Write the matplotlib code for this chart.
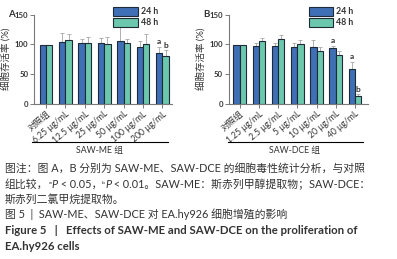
import matplotlib
matplotlib.use("Agg")
import matplotlib.pyplot as plt
import numpy as np

plt.rcParams['font.family'] = ['Lato', 'Noto Sans CJK SC', 'DejaVu Sans']

# ---------------- data ----------------
cats_a = ["对照组", "6.25 μg/mL", "12.5 μg/mL", "25 μg/mL", "50 μg/mL", "100 μg/mL", "200 μg/mL"]
a24 = [99, 104, 102, 102, 106, 96, 86]
a48 = [99, 107, 103, 101, 102, 101, 81]
a24_err = [0, 15, 7, 9, 26, 9, 10]
a48_err = [0, 11, 10, 12, 7, 17, 9]
a_marks24 = ["", "", "", "", "", "", "a"]
a_marks48 = ["", "", "", "", "", "", "b"]

cats_b = ["对照组", "1.25 μg/mL", "2.5 μg/mL", "5 μg/mL", "10 μg/mL", "20 μg/mL", "40 μg/mL"]
b24 = [99, 98, 98, 96, 96, 94, 59]
b48 = [99, 105, 109, 101, 89, 82, 13]
b24_err = [0, 5, 5, 7, 11, 4, 11]
b48_err = [0, 6, 6, 7, 7, 6, 3]
b_marks24 = ["", "", "", "", "", "a", "a"]
b_marks48 = ["", "", "", "", "", "", "b"]

series_names = ["24 h", "48 h"]
ylabel = "细胞存活率 (%)"
group_a = "SAW-ME 组"
group_b = "SAW-DCE 组"
yticks = [0, 50, 100, 150]

c24 = "#3f6fb5"
c48 = "#6cc8ac"
edge = "#1e2a38"
errc = "#b0b0b0"
txtc = "#333333"

W, H = 397, 259
fig = plt.figure(figsize=(W / 100, H / 100), dpi=100)


def px_axes(x0, x1, ytop, ybot):
    return fig.add_axes([x0 / W, 1 - ybot / H, (x1 - x0) / W, (ybot - ytop) / H])


def panel(ax, cats, v24, v48, e24, e48, m24, m48, letter, xl, xr, letter_px):
    x = np.arange(len(cats))
    w = 0.33
    ax.bar(x - w / 2, v24, w, color=c24, edgecolor=edge, linewidth=0.8, label=series_names[0], zorder=2)
    ax.bar(x + w / 2, v48, w, color=c48, edgecolor=edge, linewidth=0.8, label=series_names[1], zorder=2)
    ax.errorbar(x - w / 2, v24, yerr=[np.zeros(len(x)), e24], fmt="none", ecolor=errc,
                elinewidth=0.7, capsize=1.5, capthick=0.7, zorder=1)
    ax.errorbar(x + w / 2, v48, yerr=[np.zeros(len(x)), e48], fmt="none", ecolor=errc,
                elinewidth=0.7, capsize=1.5, capthick=0.7, zorder=1)
    for i in range(len(x)):
        if m24[i]:
            ax.text(x[i] - w / 2, v24[i] + e24[i] + 3, m24[i], ha="center", va="bottom",
                    fontsize=6, color=txtc, fontweight="bold")
        if m48[i]:
            ax.text(x[i] + w / 2, v48[i] + e48[i] + 3, m48[i], ha="center", va="bottom",
                    fontsize=6, color=txtc, fontweight="bold")
    ax.set_xlim(xl, xr)
    ax.set_ylim(0, 150)
    ax.set_yticks(yticks)
    ax.set_yticklabels([str(t) for t in yticks], fontsize=5.6, fontweight="bold", color=txtc)
    ax.set_xticks(x)
    ax.set_xticklabels(cats, rotation=40, ha="right", rotation_mode="anchor", fontsize=6.2, color=txtc)
    for s in ["top", "right"]:
        ax.spines[s].set_visible(False)
    for s in ["left", "bottom"]:
        ax.spines[s].set_color("#7a7a7a")
        ax.spines[s].set_linewidth(0.8)
    ax.tick_params(axis="both", length=3, width=0.7, color="#7a7a7a", pad=1)
    ax.set_ylabel(ylabel, fontsize=6.8, color=txtc, labelpad=3)
    leg = ax.legend(loc="upper left", bbox_to_anchor=(0.55, 1.12), frameon=False, fontsize=6.3,
                    handlelength=2.8, handleheight=1.1, handletextpad=0.3, labelspacing=0.2,
                    borderaxespad=0)
    for t in leg.get_texts():
        t.set_color(txtc)
        t.set_fontweight("bold")
    for p in leg.get_patches():
        p.set_edgecolor(edge)
        p.set_linewidth(0.8)
    fig.text(letter_px / W, 1 - 14.5 / H, letter, fontsize=7, fontweight="bold",
             color=txtc, va="center", ha="left")


axA = px_axes(34, 172, 14.5, 104)
panel(axA, cats_a, a24, a48, a24_err, a48_err, a_marks24, a_marks48, "A", -0.62, 6.5, 8.5)
axB = px_axes(228.5, 368, 14.5, 104)
panel(axB, cats_b, b24, b48, b24_err, b48_err, b_marks24, b_marks48, "B", -0.58, 6.68, 203)

# group brackets
for (x0, x1, xc, lab) in [(32, 168, 100, group_a), (228, 363, 295, group_b)]:
    fig.add_artist(plt.Line2D([x0 / W, x1 / W], [1 - 142 / H, 1 - 142 / H], color="black", linewidth=0.8))
    fig.text(xc / W, 1 - 150 / H, lab, ha="center", va="center", fontsize=6.3, color=txtc)

# caption
fig.canvas.draw()
renderer = fig.canvas.get_renderer()


def runs(x, y, parts, size=7.8):
    xp = x
    for s, kw in parts:
        opts = dict(ha="left", va="center", fontsize=size, color=txtc)
        opts.update(kw)
        t = fig.text(xp / W, 1 - y / H, s, **opts)
        bb = t.get_window_extent(renderer)
        xp += bb.width * W / fig.bbox.width


cap1 = "图注：图 A，B 分别为 SAW-ME、SAW-DCE 的细胞毒性统计分析，与对照"
cap3 = "斯赤列二氯甲烷提取物。"
cap4 = "图 5  |  SAW-ME、SAW-DCE 对 EA.hy926 细胞增殖的影响"
cap5 = "Figure 5   |   Effects of SAW-ME and SAW-DCE on the proliferation of"
cap6 = "EA.hy926 cells"

runs(5, 168, [(cap1, {})])
runs(5, 184, [("组比较，", {}), ("ᵃ", {"family": ["DejaVu Sans"], "fontsize": 5.5}), ("P", {"style": "italic"}),
              (" < 0.05，", {}), ("ᵇ", {"family": ["DejaVu Sans"], "fontsize": 5.5}), ("P", {"style": "italic"}),
              (" < 0.01。SAW-ME：斯赤列甲醇提取物；SAW-DCE：", {})])
runs(5, 199, [(cap3, {})])
runs(5, 214, [(cap4, {})])
runs(5, 231, [(cap5, {"fontweight": "bold", "fontsize": 8.2})])
runs(5, 247, [(cap6, {"fontweight": "bold", "fontsize": 8.2})])

fig.savefig("out.png", dpi=100)
